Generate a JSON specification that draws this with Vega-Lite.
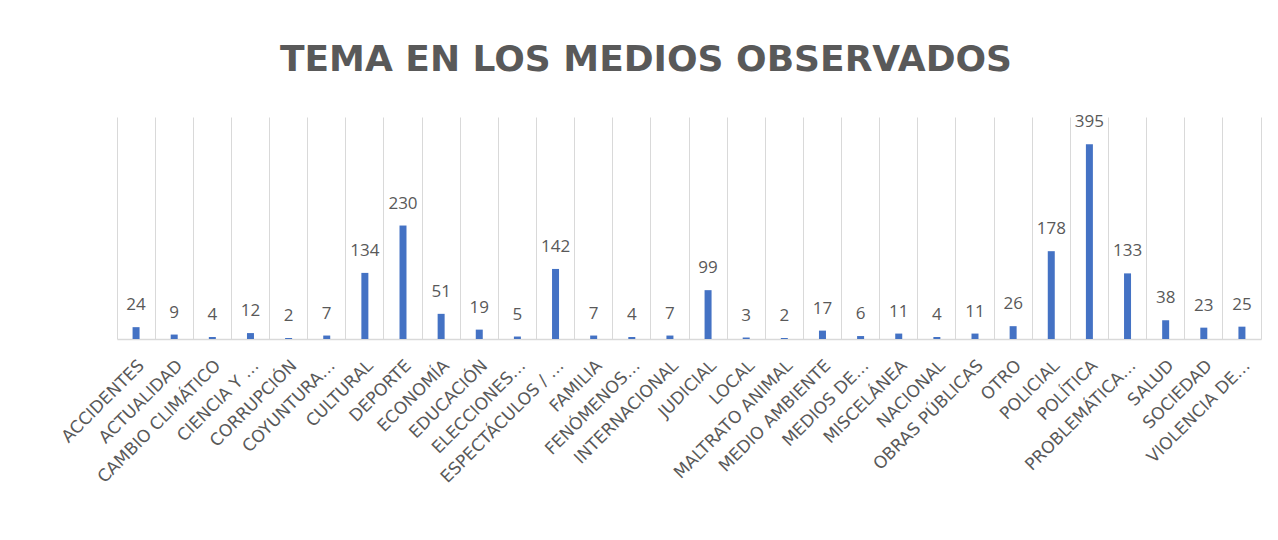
{
  "$schema": "https://vega.github.io/schema/vega-lite/v6.json",
  "width": 1144,
  "height": 222,
  "autosize": {"type": "none"},
  "padding": {"left": 117, "top": 117, "right": 17, "bottom": 201},
  "background": "white",
  "config": {"view": {"stroke": null}},
  "title": {
    "text": "TEMA EN LOS MEDIOS OBSERVADOS",
    "font": "DejaVu Sans",
    "fontSize": 36,
    "fontWeight": "bold",
    "color": "#595959",
    "anchor": "middle",
    "dx": -43,
    "baseline": "alphabetic",
    "offset": 6
  },
  "data": {
    "values": [
      {"tema": "ACCIDENTES", "valor": 24},
      {"tema": "ACTUALIDAD", "valor": 9},
      {"tema": "CAMBIO CLIMÁTICO", "valor": 4},
      {"tema": "CIENCIA Y …", "valor": 12},
      {"tema": "CORRUPCIÓN", "valor": 2},
      {"tema": "COYUNTURA…", "valor": 7},
      {"tema": "CULTURAL", "valor": 134},
      {"tema": "DEPORTE", "valor": 230},
      {"tema": "ECONOMÍA", "valor": 51},
      {"tema": "EDUCACIÓN", "valor": 19},
      {"tema": "ELECCIONES…", "valor": 5},
      {"tema": "ESPECTÁCULOS / …", "valor": 142},
      {"tema": "FAMILIA", "valor": 7},
      {"tema": "FENÓMENOS…", "valor": 4},
      {"tema": "INTERNACIONAL", "valor": 7},
      {"tema": "JUDICIAL", "valor": 99},
      {"tema": "LOCAL", "valor": 3},
      {"tema": "MALTRATO ANIMAL", "valor": 2},
      {"tema": "MEDIO AMBIENTE", "valor": 17},
      {"tema": "MEDIOS DE…", "valor": 6},
      {"tema": "MISCELÁNEA", "valor": 11},
      {"tema": "NACIONAL", "valor": 4},
      {"tema": "OBRAS PÚBLICAS", "valor": 11},
      {"tema": "OTRO", "valor": 26},
      {"tema": "POLICIAL", "valor": 178},
      {"tema": "POLÍTICA", "valor": 395},
      {"tema": "PROBLEMÁTICA…", "valor": 133},
      {"tema": "SALUD", "valor": 38},
      {"tema": "SOCIEDAD", "valor": 23},
      {"tema": "VIOLENCIA DE…", "valor": 25}
    ]
  },
  "encoding": {
    "x": {
      "field": "tema",
      "type": "nominal",
      "sort": null,
      "scale": {"paddingInner": 0, "paddingOuter": 0},
      "axis": {
        "title": null,
        "grid": true,
        "gridColor": "#D9D9D9",
        "gridWidth": 1,
        "bandPosition": 0,
        "ticks": false,
        "domainColor": "#D9D9D9",
        "domainWidth": 1.5,
        "labelAngle": -45,
        "labelFont": "DejaVu Sans",
        "labelFontSize": 17,
        "labelColor": "#595959",
        "labelPadding": 18,
        "labelLimit": 400,
        "labelOverlap": false
      }
    },
    "y": {
      "field": "valor",
      "type": "quantitative",
      "scale": {"domain": [0, 450]},
      "axis": {
        "orient": "right",
        "title": null,
        "grid": false,
        "labels": false,
        "ticks": false,
        "domain": true,
        "domainColor": "#D9D9D9",
        "domainWidth": 1
      }
    }
  },
  "layer": [
    {"mark": {"type": "bar", "size": 7, "color": "#4472C4"}},
    {
      "mark": {
        "type": "text",
        "baseline": "alphabetic",
        "dy": -17,
        "font": "Open Sans",
        "fontSize": 17,
        "color": "#595959"
      },
      "encoding": {"text": {"field": "valor", "type": "quantitative"}}
    }
  ]
}
